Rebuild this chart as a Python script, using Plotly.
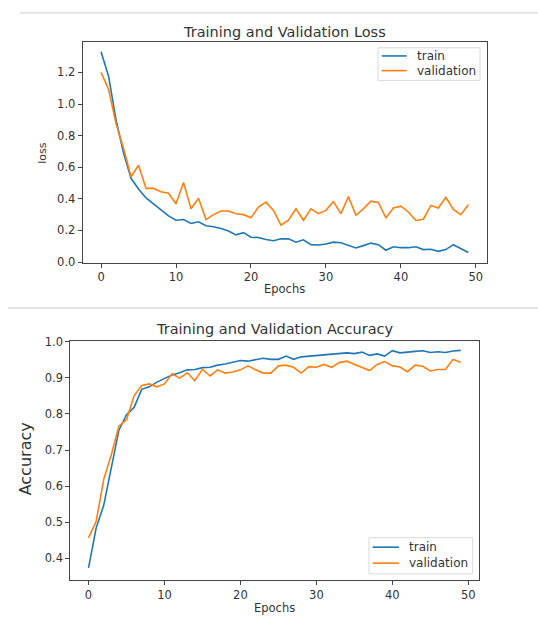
import plotly.graph_objects as go

W, H = 538, 623

epochs = list(range(50))

train_loss = [1.331, 1.176, 0.900, 0.690, 0.530, 0.462, 0.406, 0.369, 0.327, 0.292,
              0.265, 0.269, 0.244, 0.255, 0.230, 0.224, 0.213, 0.197, 0.172, 0.186,
              0.157, 0.155, 0.143, 0.135, 0.147, 0.147, 0.126, 0.141, 0.110, 0.108,
              0.114, 0.126, 0.122, 0.106, 0.089, 0.104, 0.120, 0.110, 0.075, 0.097,
              0.091, 0.091, 0.097, 0.079, 0.081, 0.068, 0.079, 0.110, 0.085, 0.060]
val_loss = [1.200, 1.093, 0.876, 0.720, 0.540, 0.613, 0.466, 0.466, 0.445, 0.435,
            0.369, 0.503, 0.337, 0.404, 0.269, 0.300, 0.323, 0.323, 0.306, 0.300,
            0.280, 0.348, 0.379, 0.327, 0.234, 0.265, 0.337, 0.265, 0.337, 0.306,
            0.327, 0.383, 0.306, 0.414, 0.296, 0.337, 0.385, 0.377, 0.280, 0.342,
            0.354, 0.317, 0.263, 0.271, 0.358, 0.342, 0.410, 0.333, 0.300, 0.362]

train_acc = [0.374, 0.484, 0.547, 0.655, 0.755, 0.798, 0.818, 0.868, 0.875, 0.888,
             0.899, 0.908, 0.914, 0.922, 0.923, 0.928, 0.929, 0.935, 0.938, 0.944,
             0.948, 0.946, 0.951, 0.954, 0.951, 0.951, 0.960, 0.951, 0.958, 0.960,
             0.960, 0.963, 0.965, 0.966, 0.969, 0.967, 0.971, 0.962, 0.966, 0.960,
             0.975, 0.969, 0.970, 0.973, 0.975, 0.970, 0.972, 0.970, 0.974, 0.976]
val_acc = [0.457, 0.502, 0.619, 0.687, 0.766, 0.784, 0.850, 0.879, 0.883, 0.875,
           0.883, 0.911, 0.899, 0.914, 0.892, 0.924, 0.905, 0.922, 0.913, 0.916,
           0.922, 0.933, 0.922, 0.913, 0.913, 0.933, 0.935, 0.929, 0.913, 0.931,
           0.929, 0.937, 0.929, 0.942, 0.946, 0.937, 0.928, 0.920, 0.937, 0.945,
           0.933, 0.930, 0.917, 0.935, 0.932, 0.919, 0.923, 0.923, 0.951, 0.943]

title_loss = "Training and Validation Loss"
title_acc = "Training and Validation Accuracy"
xlabel = "Epochs"
ylabel_loss = "loss"
ylabel_acc = "Accuracy"
legend_names = ["train", "validation"]

BLUE = "#1f77b4"
ORANGE = "#ff7f0e"
AX = "#444444"
TXT = "#333333"
FONT = "DejaVu Sans"


def px(x):
    return x / W


def py(y):
    return 1 - y / H


# plot boxes in pixels (left, right, top, bottom)
top_box = (82.7, 486.7, 36.7, 262.0)
bot_box = (70.3, 479.3, 341.7, 586.0)

fig = go.Figure()
fig.add_trace(go.Scatter(x=epochs, y=train_loss, mode="lines", line=dict(color=BLUE, width=1.6),
                         xaxis="x", yaxis="y", showlegend=False, name=legend_names[0]))
fig.add_trace(go.Scatter(x=epochs, y=val_loss, mode="lines", line=dict(color=ORANGE, width=1.6),
                         xaxis="x", yaxis="y", showlegend=False, name=legend_names[1]))
fig.add_trace(go.Scatter(x=epochs, y=train_acc, mode="lines", line=dict(color=BLUE, width=1.6),
                         xaxis="x2", yaxis="y2", showlegend=False, name=legend_names[0]))
fig.add_trace(go.Scatter(x=epochs, y=val_acc, mode="lines", line=dict(color=ORANGE, width=1.6),
                         xaxis="x2", yaxis="y2", showlegend=False, name=legend_names[1]))

axis_common = dict(showgrid=False, zeroline=False, showline=True, mirror=True,
                   linecolor=AX, linewidth=1, ticks="outside", ticklen=4,
                   tickcolor=AX, tickwidth=1,
                   tickfont=dict(family=FONT, size=11.5, color=TXT))

fig.update_layout(
    width=W, height=H,
    margin=dict(l=0, r=0, t=0, b=0),
    paper_bgcolor="white", plot_bgcolor="white",
    xaxis=dict(domain=[px(top_box[0]), px(top_box[1])], range=[-2.45, 51.45],
               tick0=0, dtick=10, anchor="y", **axis_common),
    yaxis=dict(domain=[py(top_box[3]), py(top_box[2])], range=[-0.003, 1.393],
               tick0=0, dtick=0.2, tickformat=".1f", anchor="x", **axis_common),
    xaxis2=dict(domain=[px(bot_box[0]), px(bot_box[1])], range=[-2.4, 51.45],
                tick0=0, dtick=10, anchor="y2", **axis_common),
    yaxis2=dict(domain=[py(bot_box[3]), py(bot_box[2])], range=[0.341, 1.003],
                tick0=0, dtick=0.1, tickformat=".1f", anchor="x2", **axis_common),
)

annotations = []
shapes = []


def text(x, y, s, size=11, angle=0, xanchor="center"):
    annotations.append(dict(x=px(x), y=py(y), xref="paper", yref="paper", text=s,
                            showarrow=False, textangle=angle, xanchor=xanchor, yanchor="middle",
                            font=dict(family=FONT, size=size, color=TXT)))


# titles
text((top_box[0] + top_box[1]) / 2, 26.5, title_loss, size=14.5)
text((bot_box[0] + bot_box[1]) / 2, 330, title_acc, size=14.5)
# axis labels
text((top_box[0] + top_box[1]) / 2, 289, xlabel, size=11.5)
text((bot_box[0] + bot_box[1]) / 2, 615, xlabel, size=11.5)
text(43, 150, ylabel_loss, size=11, angle=-90)
text(25, 463, ylabel_acc, size=16, angle=-90)


def legend(x0, x1, y0, y1, lx0, lx1, ly, tx):
    shapes.append(dict(type="rect", xref="paper", yref="paper",
                       x0=px(x0), x1=px(x1), y0=py(y1), y1=py(y0),
                       line=dict(color="#d9d9d9", width=1), fillcolor="rgba(255,255,255,0.85)",
                       layer="above"))
    for yy, col, name in zip(ly, [BLUE, ORANGE], legend_names):
        shapes.append(dict(type="line", xref="paper", yref="paper",
                           x0=px(lx0), x1=px(lx1), y0=py(yy), y1=py(yy),
                           line=dict(color=col, width=1.6), layer="above"))
        text(tx, yy, name, size=12, xanchor="left")


legend(378, 480, 42.7, 76, 381.7, 406.7, [51, 66], 415)
legend(369, 472.7, 543, 580, 372.7, 399, [552.7, 569], 406.5)

# separator lines (notebook cell borders)
shapes.append(dict(type="line", xref="paper", yref="paper", x0=px(20), x1=1, y0=py(7), y1=py(7),
                   line=dict(color="#e3e3e3", width=2)))
shapes.append(dict(type="line", xref="paper", yref="paper", x0=px(8), x1=1, y0=py(308.5), y1=py(308.5),
                   line=dict(color="#e3e3e3", width=2)))

fig.update_layout(annotations=annotations, shapes=shapes)

fig.write_html("out.html")
